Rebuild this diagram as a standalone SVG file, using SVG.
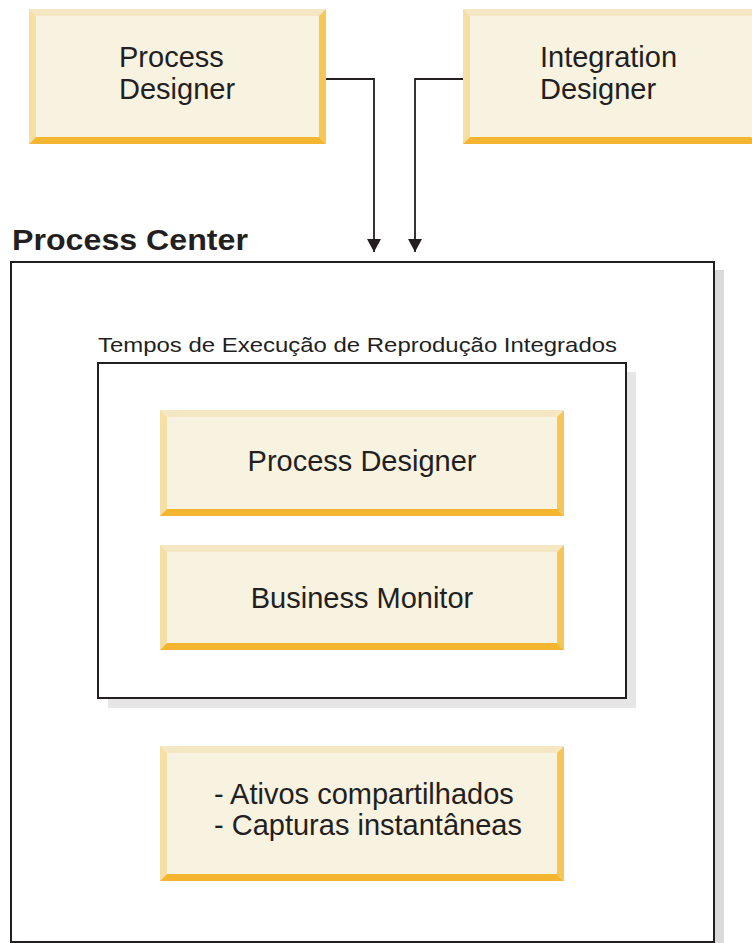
<svg xmlns="http://www.w3.org/2000/svg" width="752" height="943" viewBox="0 0 752 943">
<defs>
<style>
.t{font-family:"Liberation Sans",Arial,sans-serif;fill:#231f20}
.lbl{font-size:29px}
.in{fill:#f8f2e0}
.bt{fill:#f5e7c4}
.bl{fill:#f6dfa2}
.br{fill:#f6c756}
.bb{fill:#f4b630}
.frame{fill:#fff;stroke:#231f20;stroke-width:2}
.conn{fill:none;stroke:#231f20;stroke-width:1.8}
</style>
<marker id="ah" markerWidth="14" markerHeight="13" refX="7" refY="13" orient="0" markerUnits="userSpaceOnUse" viewBox="0 0 14 13">
<path d="M0,0 L14,0 L7,13 Z" fill="#231f20"/>
</marker>
</defs>
<rect x="0" y="0" width="752" height="943" fill="#fff"/>
<g id="process-center">
<rect x="715" y="270" width="9" height="673" fill="#dadada"/>
<rect x="11" y="262" width="703" height="680" class="frame"/>
<text x="12" y="250" class="t" font-size="29" font-weight="bold" textLength="236" lengthAdjust="spacingAndGlyphs">Process Center</text>
</g>
<g id="runtimes">
<rect x="627" y="372" width="9" height="336" fill="#e6e6e6"/>
<rect x="108" y="698" width="528" height="10" fill="#e6e6e6"/>
<rect x="98" y="363" width="528" height="335" class="frame"/>
<text x="98" y="352" class="t" font-size="21" textLength="519" lengthAdjust="spacingAndGlyphs">Tempos de Execução de Reprodução Integrados</text>
</g>
<g id="top-process-designer">
<rect x="29" y="9" width="297" height="135" class="in"/>
<polygon points="29,9 326,9 319,16 36,16" class="bt"/>
<polygon points="29,9 36,16 36,137 29,144" class="bl"/>
<polygon points="326,9 326,144 319,137 319,16" class="br"/>
<polygon points="29,144 36,137 319,137 326,144" class="bb"/>
<text class="t lbl" x="119" y="67">Process</text>
<text class="t lbl" x="119" y="99">Designer</text>
</g>
<g id="integration-designer">
<rect x="463" y="9" width="295" height="135" class="in"/>
<polygon points="463,9 758,9 751,16 470,16" class="bt"/>
<polygon points="463,9 470,16 470,137 463,144" class="bl"/>
<polygon points="463,144 470,137 751,137 758,144" class="bb"/>
<text class="t lbl" x="540" y="67">Integration</text>
<text class="t lbl" x="540" y="99">Designer</text>
</g>
<g id="inner-process-designer">
<rect x="160" y="410" width="404" height="106" class="in"/>
<polygon points="160,410 564,410 557,417 167,417" class="bt"/>
<polygon points="160,410 167,417 167,509 160,516" class="bl"/>
<polygon points="564,410 564,516 557,509 557,417" class="br"/>
<polygon points="160,516 167,509 557,509 564,516" class="bb"/>
<text class="t lbl" x="362" y="471" text-anchor="middle">Process Designer</text>
</g>
<g id="business-monitor">
<rect x="160" y="545" width="404" height="105" class="in"/>
<polygon points="160,545 564,545 557,552 167,552" class="bt"/>
<polygon points="160,545 167,552 167,643 160,650" class="bl"/>
<polygon points="564,545 564,650 557,643 557,552" class="br"/>
<polygon points="160,650 167,643 557,643 564,650" class="bb"/>
<text class="t lbl" x="362" y="608" text-anchor="middle">Business Monitor</text>
</g>
<g id="shared-assets">
<rect x="160" y="746" width="404" height="135" class="in"/>
<polygon points="160,746 564,746 557,753 167,753" class="bt"/>
<polygon points="160,746 167,753 167,874 160,881" class="bl"/>
<polygon points="564,746 564,881 557,874 557,753" class="br"/>
<polygon points="160,881 167,874 557,874 564,881" class="bb"/>
<text class="t lbl" x="214" y="804">- Ativos compartilhados</text>
<text class="t lbl" x="214" y="835">- Capturas instantâneas</text>
</g>
<g id="connectors">
<polyline points="326,79 374,79 374,252" class="conn" marker-end="url(#ah)"/>
<polyline points="463,79 415,79 415,252" class="conn" marker-end="url(#ah)"/>
</g>
</svg>
